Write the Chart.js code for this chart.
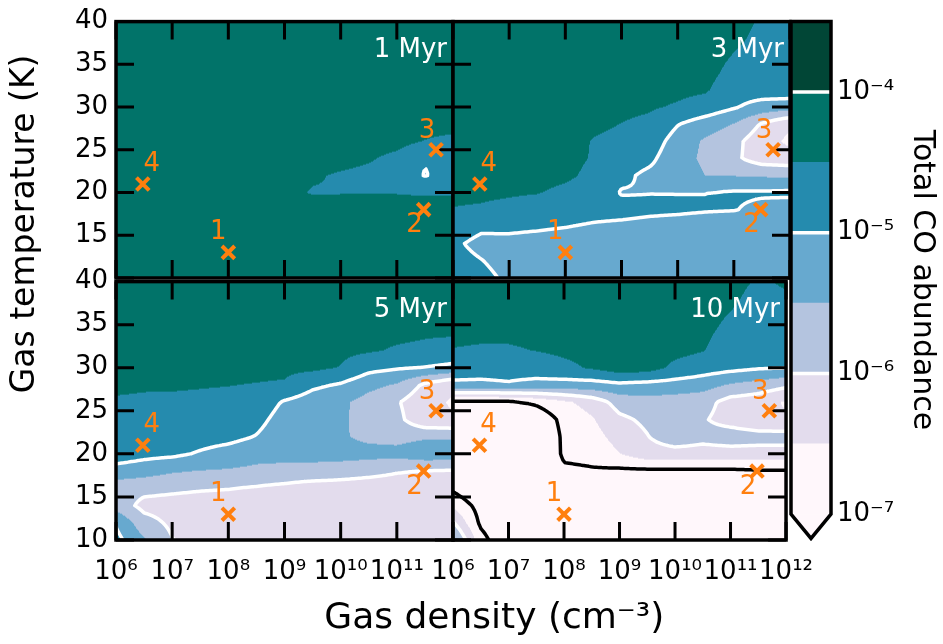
<!DOCTYPE html>
<html>
<head>
<meta charset="utf-8">
<title>Total CO abundance</title>
<script src="https://cdn.jsdelivr.net/npm/chart.js@4.4.1/dist/chart.umd.min.js"></script>
<style>
  html, body { margin: 0; padding: 0; background: #fff; }
  #fig { position: relative; width: 943px; height: 644px; overflow: hidden; background: #fff; }
  #fig canvas { position: absolute; }
</style>
</head>
<body>
<div id="fig"></div>
<script>
// ---- model grid: log10 gas density (cm^-3) columns, gas temperature (K) rows ----
const densityExponents = [6, 6.5, 7, 7.5, 8, 8.5, 9, 9.5, 10, 10.5, 11, 11.5, 12];
const temperatureRows = [40, 38, 36, 34, 32, 30, 28, 26, 24, 22, 20, 18, 16, 14, 12, 10];

// log10 of the total CO abundance, one row per temperature (40 K first)
const abundance1Myr = [
  [-4.25,-4.25,-4.25,-4.25,-4.25,-4.25,-4.25,-4.25,-4.25,-4.25,-4.25,-4.25,-4.25],
  [-4.25,-4.25,-4.25,-4.25,-4.25,-4.25,-4.25,-4.25,-4.25,-4.25,-4.25,-4.25,-4.25],
  [-4.25,-4.25,-4.25,-4.25,-4.25,-4.25,-4.25,-4.25,-4.25,-4.25,-4.25,-4.25,-4.25],
  [-4.25,-4.25,-4.25,-4.25,-4.25,-4.25,-4.25,-4.25,-4.25,-4.25,-4.25,-4.25,-4.25],
  [-4.25,-4.25,-4.25,-4.25,-4.25,-4.25,-4.25,-4.25,-4.25,-4.25,-4.25,-4.25,-4.25],
  [-4.25,-4.25,-4.25,-4.25,-4.25,-4.25,-4.25,-4.25,-4.25,-4.25,-4.25,-4.25,-4.25],
  [-4.25,-4.25,-4.25,-4.25,-4.25,-4.25,-4.25,-4.25,-4.25,-4.28,-4.30,-4.30,-4.30],
  [-4.25,-4.25,-4.25,-4.25,-4.25,-4.25,-4.25,-4.25,-4.25,-4.30,-4.35,-4.52,-4.65],
  [-4.25,-4.25,-4.25,-4.25,-4.25,-4.25,-4.25,-4.30,-4.35,-4.45,-4.62,-4.98,-4.90],
  [-4.25,-4.25,-4.25,-4.25,-4.25,-4.25,-4.35,-4.45,-4.55,-4.62,-4.75,-5.02,-4.85],
  [-4.30,-4.30,-4.30,-4.30,-4.30,-4.30,-4.38,-4.53,-4.52,-4.52,-4.52,-4.55,-4.55],
  [-4.30,-4.30,-4.30,-4.30,-4.30,-4.30,-4.30,-4.30,-4.30,-4.30,-4.30,-4.30,-4.30],
  [-4.28,-4.28,-4.28,-4.28,-4.28,-4.28,-4.28,-4.28,-4.28,-4.28,-4.28,-4.28,-4.28],
  [-4.25,-4.25,-4.25,-4.25,-4.25,-4.25,-4.25,-4.25,-4.25,-4.25,-4.25,-4.25,-4.25],
  [-4.25,-4.25,-4.25,-4.25,-4.25,-4.25,-4.25,-4.25,-4.25,-4.25,-4.25,-4.25,-4.25],
  [-4.25,-4.25,-4.25,-4.25,-4.25,-4.25,-4.25,-4.25,-4.25,-4.25,-4.25,-4.25,-4.25]
];

const abundance3Myr = [
  [-4.30,-4.30,-4.30,-4.30,-4.30,-4.30,-4.30,-4.30,-4.30,-4.30,-4.35,-4.55,-4.55],
  [-4.30,-4.30,-4.30,-4.30,-4.30,-4.30,-4.30,-4.30,-4.30,-4.30,-4.42,-4.60,-4.60],
  [-4.30,-4.30,-4.30,-4.30,-4.30,-4.30,-4.30,-4.30,-4.30,-4.30,-4.52,-4.65,-4.65],
  [-4.30,-4.30,-4.30,-4.30,-4.30,-4.30,-4.30,-4.30,-4.30,-4.35,-4.65,-4.70,-4.65],
  [-4.30,-4.30,-4.30,-4.30,-4.30,-4.30,-4.30,-4.35,-4.40,-4.45,-4.80,-4.75,-4.70],
  [-4.30,-4.30,-4.30,-4.30,-4.30,-4.30,-4.40,-4.45,-4.55,-4.70,-4.95,-5.20,-5.30],
  [-4.30,-4.30,-4.30,-4.30,-4.30,-4.40,-4.51,-4.60,-4.98,-5.25,-5.52,-6.05,-6.45],
  [-4.30,-4.30,-4.30,-4.30,-4.30,-4.53,-4.62,-4.75,-5.20,-5.58,-5.85,-6.30,-6.60],
  [-4.30,-4.30,-4.30,-4.30,-4.38,-4.53,-4.75,-4.90,-5.30,-5.60,-5.90,-6.25,-6.30],
  [-4.30,-4.30,-4.32,-4.35,-4.42,-4.60,-4.90,-5.10,-5.20,-5.51,-5.52,-5.55,-5.60],
  [-4.40,-4.42,-4.45,-4.48,-4.60,-4.70,-5.03,-5.01,-5.01,-5.005,-4.95,-4.95,-4.92],
  [-4.52,-4.55,-4.62,-4.70,-4.80,-4.85,-4.85,-4.90,-4.92,-4.96,-4.98,-5.10,-5.20],
  [-4.70,-4.90,-4.93,-4.95,-4.99,-5.05,-5.10,-5.15,-5.20,-5.25,-5.30,-5.35,-5.40],
  [-4.90,-5.15,-5.10,-5.15,-5.20,-5.25,-5.30,-5.35,-5.35,-5.40,-5.40,-5.45,-5.45],
  [-4.80,-4.98,-5.20,-5.20,-5.25,-5.30,-5.35,-5.40,-5.40,-5.45,-5.45,-5.45,-5.45],
  [-4.70,-4.85,-5.10,-5.15,-5.20,-5.25,-5.30,-5.35,-5.35,-5.40,-5.40,-5.40,-5.45]
];

const abundance5Myr = [
  [-4.30,-4.30,-4.30,-4.30,-4.30,-4.30,-4.30,-4.30,-4.30,-4.30,-4.30,-4.30,-4.30],
  [-4.30,-4.30,-4.30,-4.30,-4.30,-4.30,-4.30,-4.30,-4.30,-4.30,-4.30,-4.30,-4.30],
  [-4.30,-4.30,-4.30,-4.30,-4.30,-4.30,-4.30,-4.30,-4.30,-4.30,-4.30,-4.35,-4.35],
  [-4.30,-4.30,-4.30,-4.30,-4.30,-4.30,-4.30,-4.30,-4.30,-4.35,-4.40,-4.45,-4.45],
  [-4.30,-4.30,-4.30,-4.30,-4.30,-4.30,-4.30,-4.35,-4.40,-4.45,-4.55,-4.60,-4.70],
  [-4.30,-4.30,-4.30,-4.30,-4.35,-4.38,-4.40,-4.40,-4.52,-4.85,-4.95,-5.02,-5.10],
  [-4.42,-4.45,-4.45,-4.47,-4.49,-4.52,-4.55,-4.90,-5.05,-5.35,-5.55,-6.10,-6.45],
  [-4.55,-4.57,-4.58,-4.60,-4.62,-4.70,-5.05,-5.25,-5.40,-5.70,-5.95,-6.35,-6.55],
  [-4.62,-4.64,-4.65,-4.70,-4.72,-4.85,-5.20,-5.35,-5.42,-5.70,-5.85,-6.40,-6.45],
  [-4.68,-4.72,-4.75,-4.80,-4.85,-5.02,-5.30,-5.40,-5.45,-5.60,-5.65,-5.56,-5.57],
  [-4.72,-4.85,-4.90,-5.05,-5.20,-5.35,-5.40,-5.40,-5.35,-5.35,-5.35,-5.20,-5.20],
  [-5.20,-5.30,-5.45,-5.52,-5.55,-5.60,-5.60,-5.60,-5.70,-5.80,-5.95,-6.02,-6.05],
  [-5.80,-5.85,-5.90,-5.95,-5.98,-6.05,-6.15,-6.30,-6.30,-6.35,-6.35,-6.40,-6.40],
  [-5.70,-6.15,-6.20,-6.25,-6.30,-6.35,-6.40,-6.40,-6.45,-6.45,-6.45,-6.45,-6.45],
  [-5.05,-5.80,-6.10,-6.25,-6.30,-6.35,-6.35,-6.40,-6.45,-6.45,-6.45,-6.45,-6.45],
  [-4.85,-5.45,-5.98,-6.20,-6.25,-6.30,-6.30,-6.35,-6.40,-6.40,-6.40,-6.40,-6.40]
];

const abundance10Myr = [
  [-4.30,-4.30,-4.30,-4.30,-4.30,-4.30,-4.30,-4.30,-4.30,-4.30,-4.35,-4.55,-4.45],
  [-4.30,-4.30,-4.30,-4.30,-4.30,-4.30,-4.30,-4.30,-4.30,-4.30,-4.42,-4.65,-4.55],
  [-4.35,-4.35,-4.35,-4.32,-4.32,-4.30,-4.30,-4.30,-4.30,-4.35,-4.53,-4.70,-4.65],
  [-4.40,-4.42,-4.42,-4.38,-4.36,-4.33,-4.32,-4.35,-4.32,-4.42,-4.62,-4.75,-4.72],
  [-4.52,-4.55,-4.55,-4.49,-4.42,-4.38,-4.36,-4.40,-4.38,-4.48,-4.70,-4.80,-4.80],
  [-4.75,-4.80,-4.80,-4.75,-4.60,-4.45,-4.25,-4.30,-4.60,-4.75,-4.85,-4.95,-4.98],
  [-5.10,-5.10,-5.05,-5.15,-5.20,-5.20,-5.10,-5.15,-5.20,-5.30,-5.55,-5.70,-5.90],
  [-7.10,-7.10,-7.10,-6.90,-6.60,-6.30,-5.80,-5.70,-5.75,-5.80,-6.20,-6.30,-6.55],
  [-7.50,-7.60,-7.60,-7.40,-6.85,-6.55,-6.10,-5.90,-5.85,-5.95,-6.20,-6.40,-6.45],
  [-7.60,-7.70,-7.70,-7.60,-6.90,-6.70,-6.30,-6.02,-5.70,-5.85,-5.75,-5.80,-5.80],
  [-7.60,-7.70,-7.70,-7.70,-6.90,-6.85,-6.52,-6.20,-6.20,-6.20,-6.20,-6.20,-6.20],
  [-7.50,-7.60,-7.70,-7.70,-7.10,-7.05,-7.10,-7.10,-7.10,-7.10,-7.10,-7.05,-7.05],
  [-7.10,-7.50,-7.60,-7.60,-7.50,-7.50,-7.50,-7.50,-7.50,-7.45,-7.45,-7.45,-7.45],
  [-6.60,-7.20,-7.60,-7.60,-7.60,-7.60,-7.60,-7.55,-7.50,-7.45,-7.45,-7.45,-7.45],
  [-5.95,-7.10,-7.50,-7.60,-7.60,-7.60,-7.60,-7.55,-7.50,-7.45,-7.45,-7.45,-7.45],
  [-5.30,-6.80,-7.50,-7.60,-7.60,-7.60,-7.60,-7.55,-7.50,-7.45,-7.45,-7.45,-7.45]
];

const panelTitles = ['1 Myr', '3 Myr', '5 Myr', '10 Myr'];

// the four sampled cloud conditions
const markerLabels = ['1', '2', '3', '4'];
const markerDensity = [1e8, 3e11, 5e11, 3e6];
const markerTemperature = [13, 18, 25, 21];

// contour levels (log10 abundance) and the colour of each band between them
const levelExponents = [-7, -6.5, -6, -5.5, -5, -4.5, -4, -3.5];
const bandColors = ['#fff7fb', '#e3dced', '#b4c4df', '#67a9cf', '#258bae', '#017369', '#014636'];
const lineExponents = [-7, -6, -5, -4];

// axis ticks
const densityTickExponents = [6, 7, 8, 9, 10, 11, 12];
const temperatureTicks = [10, 15, 20, 25, 30, 35, 40];
const colorbarTickExponents = [-7, -6, -5, -4];

// ---------------------------------------------------------------------------
Chart.defaults.font.family = "'DejaVu Sans', 'Liberation Sans', sans-serif";
Chart.defaults.color = '#000';

const fig = document.getElementById('fig');
const SUP = { '0': '⁰', '1': '¹', '2': '²', '3': '³', '4': '⁴', '5': '⁵', '6': '⁶', '7': '⁷', '8': '⁸', '9': '⁹', '-': '⁻' };
const pow10Label = e => '10' + String(e).split('').map(c => SUP[c]).join('');

const TICK_LEN = 18;
const FRAME_W = 3.5;
const LINE_W = 3.5;
const labelOffsets = [[-10, -20], [-9, 16], [-9, -19], [9, -20]];

const tempAsc = temperatureRows.slice().reverse();
function locate(arr, v) {
  if (v <= arr[0]) return [0, 0];
  for (let i = 0; i < arr.length - 1; i++) {
    if (v <= arr[i + 1]) return [i, (v - arr[i]) / (arr[i + 1] - arr[i])];
  }
  return [arr.length - 2, 1];
}
function sampleGrid(grid, logN, temp) {
  const [i, fx] = locate(densityExponents, logN);
  const [j, fy] = locate(tempAsc, temp);
  const nR = grid.length;
  const lo = grid[nR - 1 - j], hi = grid[nR - 2 - j];
  const a = lo[i] + (lo[i + 1] - lo[i]) * fx;
  const b = hi[i] + (hi[i + 1] - hi[i]) * fx;
  return a + (b - a) * fy;
}
function bandIndex(v) {
  for (let k = levelExponents.length - 2; k >= 0; k--) {
    if (v >= levelExponents[k]) return k;
  }
  return 0; // below the lowest level: drawn with the lowest colour
}
const bandRGB = bandColors.map(h => [1, 3, 5].map(o => parseInt(h.substr(o, 2), 16)));

// marching squares over a fine pixel lattice
function drawContour(ctx, a, valueAt, level, color) {
  const step = 2;
  const W = a.right - a.left, H = a.bottom - a.top;
  const nx = Math.ceil(W / step) + 1, ny = Math.ceil(H / step) + 1;
  const xs = [], ys = [];
  for (let i = 0; i < nx; i++) xs.push(a.left + Math.min(i * step, W));
  for (let j = 0; j < ny; j++) ys.push(a.top + Math.min(j * step, H));
  const v = new Float64Array(nx * ny);
  for (let j = 0; j < ny; j++) for (let i = 0; i < nx; i++) v[j * nx + i] = valueAt(xs[i], ys[j]);
  ctx.beginPath();
  const seg = (p, q) => { ctx.moveTo(p[0], p[1]); ctx.lineTo(q[0], q[1]); };
  for (let j = 0; j < ny - 1; j++) {
    for (let i = 0; i < nx - 1; i++) {
      const tl = v[j * nx + i], tr = v[j * nx + i + 1], br = v[(j + 1) * nx + i + 1], bl = v[(j + 1) * nx + i];
      const idx = (tl > level ? 8 : 0) | (tr > level ? 4 : 0) | (br > level ? 2 : 0) | (bl > level ? 1 : 0);
      if (idx === 0 || idx === 15) continue;
      const T = () => [xs[i] + (xs[i + 1] - xs[i]) * (level - tl) / (tr - tl), ys[j]];
      const R = () => [xs[i + 1], ys[j] + (ys[j + 1] - ys[j]) * (level - tr) / (br - tr)];
      const B = () => [xs[i] + (xs[i + 1] - xs[i]) * (level - bl) / (br - bl), ys[j + 1]];
      const L = () => [xs[i], ys[j] + (ys[j + 1] - ys[j]) * (level - tl) / (bl - tl)];
      switch (idx) {
        case 1: case 14: seg(L(), B()); break;
        case 2: case 13: seg(B(), R()); break;
        case 3: case 12: seg(L(), R()); break;
        case 4: case 11: seg(T(), R()); break;
        case 6: case 9: seg(T(), B()); break;
        case 7: case 8: seg(L(), T()); break;
        case 5: seg(L(), T()); seg(B(), R()); break;
        case 10: seg(T(), R()); seg(L(), B()); break;
      }
    }
  }
  ctx.strokeStyle = color;
  ctx.lineWidth = LINE_W;
  ctx.lineCap = 'round';
  ctx.lineJoin = 'round';
  ctx.stroke();
}

function makePanelPlugin(panel) {
  return {
    id: 'panelLayers',
    beforeDatasetsDraw(chart) {
      const { ctx, chartArea: a, scales: { x, y } } = chart;
      const w = Math.round(a.right - a.left), h = Math.round(a.bottom - a.top);
      // filled abundance bands
      const off = document.createElement('canvas');
      off.width = w; off.height = h;
      const octx = off.getContext('2d');
      const img = octx.createImageData(w, h);
      const logNs = [], temps = [];
      for (let i = 0; i < w; i++) logNs.push(Math.log10(x.getValueForPixel(a.left + i + 0.5)));
      for (let j = 0; j < h; j++) temps.push(y.getValueForPixel(a.top + j + 0.5));
      for (let j = 0; j < h; j++) {
        for (let i = 0; i < w; i++) {
          const c = bandRGB[bandIndex(sampleGrid(panel.grid, logNs[i], temps[j]))];
          const p = (j * w + i) * 4;
          img.data[p] = c[0]; img.data[p + 1] = c[1]; img.data[p + 2] = c[2]; img.data[p + 3] = 255;
        }
      }
      octx.putImageData(img, 0, 0);
      ctx.drawImage(off, a.left, a.top);

      // contour lines
      const valueAt = (px, py) => sampleGrid(panel.grid, Math.log10(x.getValueForPixel(px)), y.getValueForPixel(py));
      ctx.save();
      ctx.beginPath();
      ctx.rect(a.left, a.top, a.right - a.left, a.bottom - a.top);
      ctx.clip();
      lineExponents.forEach(L => drawContour(ctx, a, valueAt, L, L === levelExponents[0] ? '#000' : '#fff'));
      ctx.restore();

      // frame with inward ticks on every side
      ctx.save();
      ctx.strokeStyle = '#000';
      ctx.lineWidth = 3;
      ctx.lineCap = 'butt';
      ctx.beginPath();
      x.ticks.forEach(t => {
        const px = x.getPixelForValue(t.value);
        ctx.moveTo(px, a.top); ctx.lineTo(px, a.top + TICK_LEN);
        ctx.moveTo(px, a.bottom); ctx.lineTo(px, a.bottom - TICK_LEN);
      });
      y.ticks.forEach(t => {
        const py = y.getPixelForValue(t.value);
        ctx.moveTo(a.left, py); ctx.lineTo(a.left + TICK_LEN, py);
        ctx.moveTo(a.right, py); ctx.lineTo(a.right - TICK_LEN, py);
      });
      ctx.stroke();
      ctx.lineWidth = FRAME_W;
      ctx.strokeRect(a.left, a.top, a.right - a.left, a.bottom - a.top);
      ctx.restore();
    },
    afterDatasetsDraw(chart) {
      const { ctx, chartArea: a } = chart;
      ctx.save();
      ctx.font = "26px 'DejaVu Sans'";
      // panel age
      ctx.fillStyle = '#fff';
      ctx.textAlign = 'right';
      ctx.textBaseline = 'alphabetic';
      ctx.fillText(panel.title, a.right - 6, a.top + 35);
      // point numbers
      ctx.fillStyle = '#ff7f0e';
      ctx.textAlign = 'center';
      ctx.textBaseline = 'middle';
      chart.getDatasetMeta(0).data.forEach((pt, i) => {
        ctx.fillText(markerLabels[i], pt.x + labelOffsets[i][0], pt.y + labelOffsets[i][1]);
      });
      ctx.restore();
    }
  };
}

// ---- axis titles ----
(function () {
  const c = document.createElement('canvas');
  c.width = 943; c.height = 644;
  c.style.left = '0px'; c.style.top = '0px';
  fig.appendChild(c);
  new Chart(c, {
    type: 'scatter',
    data: { datasets: [] },
    options: {
      responsive: false, animation: false, events: [],
      layout: { padding: 0 },
      scales: { x: { display: false }, y: { display: false } },
      plugins: {
        legend: { display: false }, tooltip: { enabled: false },
        title: {
          display: true, position: 'bottom', fullSize: false, text: 'Gas density (cm⁻³)',
          color: '#000', font: { size: 36, weight: 'normal' }, padding: { top: 149, bottom: 4 }
        },
        subtitle: {
          display: true, position: 'left', fullSize: false, text: 'Gas temperature (K)',
          color: '#000', font: { size: 33, weight: 'normal' }, padding: { top: 6, bottom: 0 }
        }
      }
    }
  });
})();

// ---- the four panels ----
const panels = [
  { title: panelTitles[0], grid: abundance1Myr, rect: { x: 116, y: 18, w: 337, h: 260 }, xLabels: [], yLabels: [15, 20, 25, 30, 35, 40] },
  { title: panelTitles[1], grid: abundance3Myr, rect: { x: 453, y: 18, w: 337, h: 260 }, xLabels: [], yLabels: [] },
  { title: panelTitles[2], grid: abundance5Myr, rect: { x: 116, y: 278, w: 337, h: 262 }, xLabels: [6, 7, 8, 9, 10, 11], yLabels: temperatureTicks },
  { title: panelTitles[3], grid: abundance10Myr, rect: { x: 453, y: 278, w: 337, h: 262 }, xLabels: densityTickExponents, yLabels: [] }
];

panels.forEach(panel => {
  const padL = 100, padT = 20, padR = 40, padB = 60;
  const r = panel.rect;
  const c = document.createElement('canvas');
  c.width = r.w + padL + padR; c.height = r.h + padT + padB;
  c.style.left = (r.x - padL) + 'px'; c.style.top = (r.y - padT) + 'px';
  fig.appendChild(c);
  new Chart(c, {
    type: 'scatter',
    data: {
      datasets: [{
        data: markerDensity.map((n, i) => ({ x: n, y: markerTemperature[i] })),
        pointStyle: 'crossRot', pointRadius: 9, pointBorderWidth: 4,
        pointBorderColor: '#ff7f0e', pointBackgroundColor: '#ff7f0e',
        showLine: false, clip: false
      }]
    },
    options: {
      responsive: false, animation: false, events: [],
      layout: { padding: { left: 0, top: padT, right: padR, bottom: 0 } },
      plugins: { legend: { display: false }, tooltip: { enabled: false } },
      scales: {
        x: {
          type: 'logarithmic', position: 'bottom', min: 1e6, max: 1e12,
          grid: { display: false, drawTicks: false }, border: { display: false },
          afterBuildTicks: s => { s.ticks = densityTickExponents.map(e => ({ value: Math.pow(10, e) })); },
          afterFit: s => { s.height = padB; },
          ticks: {
            autoSkip: false, maxRotation: 0, padding: 17, font: { size: 26 },
            callback: v => {
              const e = Math.round(Math.log10(v));
              return panel.xLabels.includes(e) ? pow10Label(e) : '';
            }
          }
        },
        y: {
          type: 'linear', position: 'left', min: 10, max: 40,
          grid: { display: false, drawTicks: false }, border: { display: false },
          afterBuildTicks: s => { s.ticks = temperatureTicks.map(t => ({ value: t })); },
          afterFit: s => { s.width = padL; },
          ticks: {
            autoSkip: false, padding: 8, font: { size: 26 },
            callback: v => (panel.yLabels.includes(v) ? String(v) : '')
          }
        }
      }
    },
    plugins: [makePanelPlugin(panel)]
  });
});

// ---- colour bar ----
(function () {
  const c = document.createElement('canvas');
  c.width = 183; c.height = 560;
  c.style.left = '760px'; c.style.top = '0px';
  fig.appendChild(c);
  const cbPlugin = {
    id: 'colorbarFrame',
    afterDatasetsDraw(chart) {
      const { ctx, chartArea: a, scales: { y } } = chart;
      const yMin = y.getPixelForValue(Math.pow(10, levelExponents[0]));
      const mid = (a.left + a.right) / 2;
      ctx.save();
      // extension triangle for values below the lowest level
      ctx.beginPath();
      ctx.moveTo(a.left, yMin); ctx.lineTo(a.right, yMin); ctx.lineTo(mid, a.bottom); ctx.closePath();
      ctx.fillStyle = bandColors[0];
      ctx.fill();
      // contour line levels
      ctx.strokeStyle = '#fff';
      ctx.lineWidth = LINE_W;
      ctx.beginPath();
      lineExponents.filter(e => e > levelExponents[0]).forEach(e => {
        const py = y.getPixelForValue(Math.pow(10, e));
        ctx.moveTo(a.left, py); ctx.lineTo(a.right, py);
      });
      ctx.stroke();
      // outline
      ctx.strokeStyle = '#000';
      ctx.lineWidth = FRAME_W;
      ctx.lineJoin = 'miter';
      ctx.beginPath();
      ctx.moveTo(a.left, a.top); ctx.lineTo(a.right, a.top); ctx.lineTo(a.right, yMin);
      ctx.lineTo(mid, a.bottom); ctx.lineTo(a.left, yMin); ctx.closePath();
      ctx.stroke();
      ctx.restore();
    }
  };
  new Chart(c, {
    type: 'bar',
    data: {
      labels: [''],
      datasets: bandColors.map((col, k) => ({
        data: [[Math.pow(10, levelExponents[k]), Math.pow(10, levelExponents[k + 1])]],
        backgroundColor: col, borderWidth: 0, grouped: false,
        barPercentage: 1, categoryPercentage: 1
      }))
    },
    options: {
      responsive: false, animation: false, events: [],
      layout: { padding: { left: 31, top: 18, right: 0, bottom: 20 } },
      plugins: { legend: { display: false }, tooltip: { enabled: false } },
      scales: {
        x: { display: false },
        y: {
          type: 'logarithmic', position: 'right',
          min: Math.pow(10, -7.172), max: Math.pow(10, -3.5),
          grid: { display: false, drawTicks: false }, border: { display: false },
          afterBuildTicks: s => { s.ticks = colorbarTickExponents.map(e => ({ value: Math.pow(10, e) })); },
          afterFit: s => { s.width = 112; },
          ticks: {
            padding: 6, font: { size: 26 },
            callback: v => pow10Label(Math.round(Math.log10(v)))
          },
          title: {
            display: true, text: 'Total CO abundance', color: '#000',
            font: { size: 30 }, padding: { top: 3, bottom: 0 }
          }
        }
      }
    },
    plugins: [cbPlugin]
  });
})();
</script>
</body>
</html>
